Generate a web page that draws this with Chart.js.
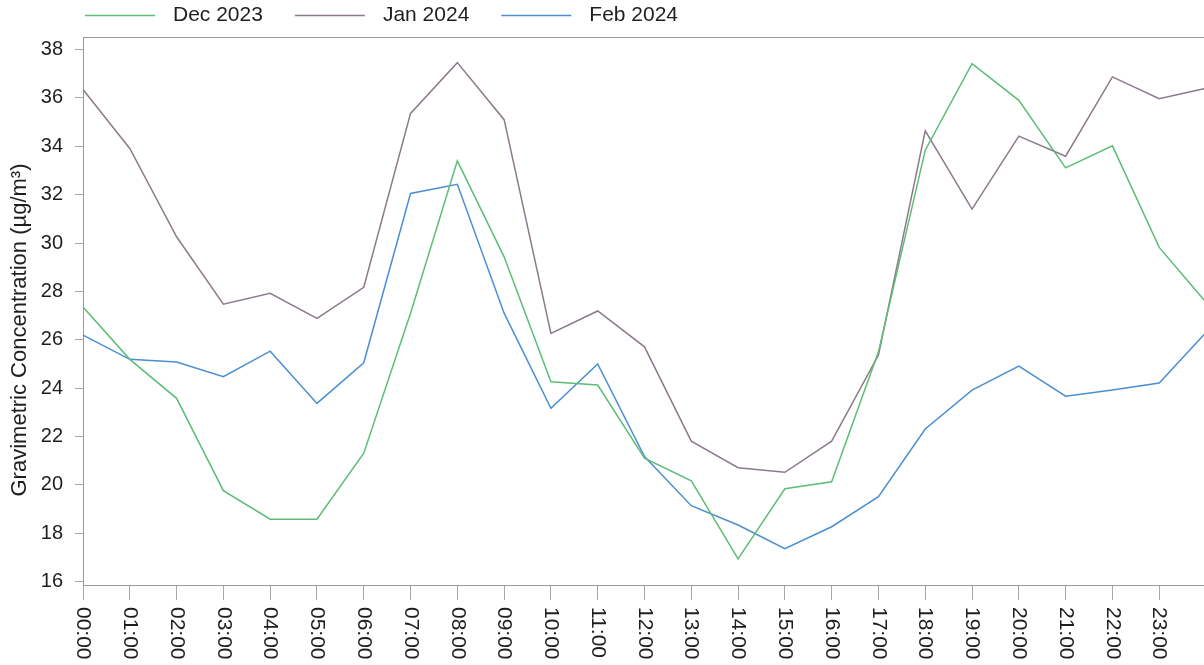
<!DOCTYPE html>
<html>
<head>
<meta charset="utf-8">
<title>Hourly Gravimetric Concentration</title>
<script src="https://cdn.jsdelivr.net/npm/chart.js@4"></script>
<style>
  html, body { margin: 0; padding: 0; background: #ffffff; overflow: hidden; }
  #wrap { width: 1215px; height: 665px; }
</style>
</head>
<body>
<div id="wrap"><canvas id="chart" width="1215" height="665"></canvas></div>
<script>
// Hour of day; the final point closes the daily cycle back at midnight
const HOURS = ['00:00', '01:00', '02:00', '03:00', '04:00', '05:00', '06:00', '07:00',
               '08:00', '09:00', '10:00', '11:00', '12:00', '13:00', '14:00', '15:00',
               '16:00', '17:00', '18:00', '19:00', '20:00', '21:00', '22:00', '23:00', ''];

const SERIES_NAMES = ['Dec 2023', 'Jan 2024', 'Feb 2024'];

// Mean concentration per hour, µg/m³
const DEC_2023 = [27.36, 25.19, 23.58, 19.76, 18.58, 18.58, 21.31, 27.10, 33.40, 29.43,
                  24.26, 24.13, 21.10, 20.17, 16.94, 19.84, 20.13, 25.50, 33.84, 37.42,
                  35.90, 33.11, 34.02, 29.82, 27.55];
const JAN_2024 = [36.35, 33.91, 30.26, 27.47, 27.92, 26.88, 28.17, 35.36, 37.46, 35.10,
                  26.26, 27.19, 25.71, 21.81, 20.71, 20.52, 21.81, 25.37, 34.64, 31.40,
                  34.42, 33.59, 36.87, 35.97, 36.40];
const FEB_2024 = [26.19, 25.19, 25.08, 24.47, 25.53, 23.37, 25.05, 32.05, 32.43, 27.10,
                  23.17, 25.00, 21.17, 19.14, 18.34, 17.36, 18.27, 19.51, 22.31, 23.92,
                  24.91, 23.67, 23.92, 24.21, 26.30];

const Y_TICKS = [16, 18, 20, 22, 24, 26, 28, 30, 32, 34, 36, 38];
const Y_MIN = 15.86;
const Y_MAX = 38.52;

const Y_TITLE = 'Gravimetric Concentration (µg/m³)';
const COLORS = ['#5dbd76', '#8c7a8c', '#4a8fd2'];
const FONT = '"Liberation Sans", Arial, Helvetica, sans-serif';
const TEXT_COLOR = '#1e1e1e';
const AXIS_COLOR = '#a8a8a8';

// Frame around the plotting area
const framePlugin = {
  id: 'frame',
  beforeDatasetsDraw(chart) {
    const { ctx, chartArea: a } = chart;
    ctx.save();
    ctx.strokeStyle = '#9a9a9a';
    ctx.lineWidth = 1;
    ctx.strokeRect(Math.round(a.left) + 0.5, Math.round(a.top) + 0.5,
                   Math.round(a.right - a.left), Math.round(a.bottom - a.top));
    ctx.restore();
  }
};

// Hour labels written downward beneath each tick, axis title and legend row
const textPlugin = {
  id: 'texts',
  afterDraw(chart) {
    const { ctx, chartArea: a } = chart;
    const xs = chart.scales.x;
    ctx.save();
    ctx.fillStyle = TEXT_COLOR;

    // x labels, rotated clockwise
    ctx.font = '21px ' + FONT;
    ctx.textAlign = 'left';
    ctx.textBaseline = 'middle';
    HOURS.forEach((lab, i) => {
      if (!lab) return;
      const x = xs.getPixelForTick(i);
      ctx.save();
      ctx.translate(x, a.bottom + 22);
      ctx.rotate(Math.PI / 2);
      ctx.fillText(lab, 0, 0);
      ctx.restore();
    });

    // y axis title
    ctx.save();
    ctx.font = '22px ' + FONT;
    ctx.translate(20, 330);
    ctx.rotate(-Math.PI / 2);
    ctx.textAlign = 'center';
    ctx.textBaseline = 'middle';
    ctx.fillText(Y_TITLE, 0, 0);
    ctx.restore();

    // legend
    ctx.font = '21px ' + FONT;
    ctx.textAlign = 'left';
    ctx.textBaseline = 'middle';
    let x = 85;
    const y = 15;
    chart.data.datasets.forEach(ds => {
      ctx.strokeStyle = ds.borderColor;
      ctx.lineWidth = 1.5;
      ctx.beginPath();
      ctx.moveTo(x, y + 0.5);
      ctx.lineTo(x + 70, y + 0.5);
      ctx.stroke();
      x += 70 + 18;
      ctx.fillText(ds.label, x, y);
      x += ctx.measureText(ds.label).width + 32;
    });
    ctx.restore();
  }
};

const makeSet = (label, data, color) => ({
  label, data,
  borderColor: color,
  backgroundColor: color,
  borderWidth: 1.5,
  pointRadius: 0,
  pointHoverRadius: 0,
  tension: 0,
  fill: false
});

new Chart(document.getElementById('chart'), {
  type: 'line',
  data: {
    labels: HOURS,
    datasets: [
      makeSet(SERIES_NAMES[0], DEC_2023, COLORS[0]),
      makeSet(SERIES_NAMES[1], JAN_2024, COLORS[1]),
      makeSet(SERIES_NAMES[2], FEB_2024, COLORS[2])
    ]
  },
  options: {
    responsive: false,
    animation: false,
    devicePixelRatio: 1,
    layout: { padding: { top: 37, right: 9, bottom: 0, left: 0 } },
    plugins: {
      legend: { display: false },
      tooltip: { enabled: false },
      title: { display: false }
    },
    scales: {
      x: {
        type: 'category',
        offset: false,
        afterFit(s) { s.height = 80; },
        border: { display: false },
        grid: { drawOnChartArea: false, drawTicks: true, tickLength: 15, color: AXIS_COLOR, offset: false },
        ticks: { display: false, autoSkip: false }
      },
      y: {
        type: 'linear',
        min: Y_MIN,
        max: Y_MAX,
        afterBuildTicks(s) { s.ticks = Y_TICKS.map(v => ({ value: v })); },
        afterFit(s) { s.width = 83; },
        border: { display: false },
        grid: { drawOnChartArea: false, drawTicks: true, tickLength: 8, color: AXIS_COLOR },
        ticks: { padding: 12, color: TEXT_COLOR, font: { family: FONT, size: 20 } }
      }
    }
  },
  plugins: [framePlugin, textPlugin]
});
</script>
</body>
</html>
